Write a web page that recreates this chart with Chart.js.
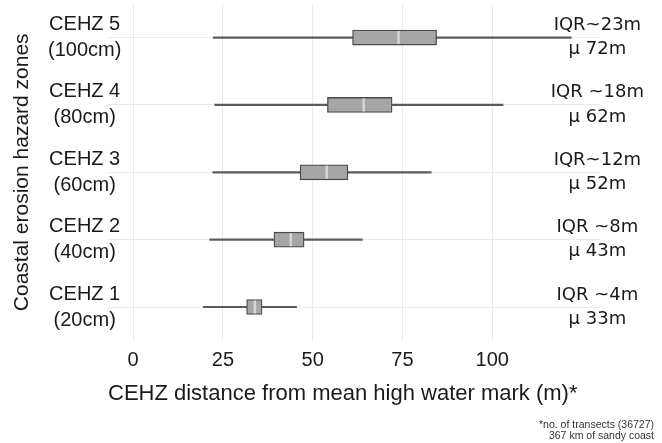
<!DOCTYPE html>
<html>
<head>
<meta charset="utf-8">
<script src="https://cdn.jsdelivr.net/npm/chart.js@4.4.1/dist/chart.umd.min.js"></script>
<style>
	html, body { margin: 0; padding: 0; background: #fff; }
	#wrap { width: 662px; height: 443px; }
</style>
</head>
<body>
<div id="wrap"><canvas id="cehzChart"></canvas></div>
<script>
// Zones, bottom to top
var zoneLabels = [["CEHZ 1", "(20cm)"], ["CEHZ 2", "(40cm)"], ["CEHZ 3", "(60cm)"], ["CEHZ 4", "(80cm)"], ["CEHZ 5", "(100cm)"]];
var whiskerLow = [19.5, 21.3, 22.2, 22.7, 22.3];
var whiskerHigh = [45.5, 63.8, 83, 103, 122];
var q1 = [31.6, 39.2, 46.5, 54.1, 61.1];
var q3 = [35.9, 47.6, 59.8, 72.1, 84.5];
var medians = [33.9, 43.9, 53.9, 64.2, 73.9];
var iqrLabels = ["IQR ~4m", "IQR ~8m", "IQR~12m", "IQR ~18m", "IQR~23m"];
var meanLabels = ["\u03bc 33m", "\u03bc 43m", "\u03bc 52m", "\u03bc 62m", "\u03bc 72m"];
var xTicks = [0, 25, 50, 75, 100];

var whiskers = whiskerLow.map(function(v, i) { return [v, whiskerHigh[i]]; });
var boxes = q1.map(function(v, i) { return [v, q3[i]]; });
var sideLabels = iqrLabels.map(function(t, i) { return [t, meanLabels[i]]; });

Chart.defaults.font.family = "'Liberation Sans', Arial, sans-serif";
Chart.defaults.color = '#1a1a1a';

var gridColor = '#ebebeb';

// fixed axis widths, no extra label padding above/below the plot
function fixWidth(w) {
	return function(scale) {
		scale.width = w;
		scale.paddingTop = 0;
		scale.paddingBottom = 0;
	};
}

var cehzChart = new Chart(document.getElementById('cehzChart'), {
	type: 'bar',
	data: {
		labels: zoneLabels,
		datasets: [{
			// Medians
			type: 'line',
			data: medians,
			showLine: false,
			pointStyle: 'line',
			pointRotation: 90,
			pointRadius: 6.5,
			pointBorderWidth: 2.5,
			pointBorderColor: '#d6d6d6',
			order: 0
		}, {
			// Boxes
			data: boxes,
			grouped: false,
			barThickness: 15,
			backgroundColor: '#a6a6a6',
			borderColor: '#4a4a4a',
			borderWidth: 1.3,
			borderSkipped: false,
			order: 1
		}, {
			// Whiskers
			data: whiskers,
			grouped: false,
			barThickness: 1.5,
			backgroundColor: '#5a5a5a',
			order: 2
		}]
	},
	options: {
		indexAxis: 'y',
		responsive: true,
		maintainAspectRatio: false,
		animation: false,
		events: [],
		layout: {
			autoPadding: false,
			padding: { left: 5, right: 8, top: 3.9, bottom: 0.8 }
		},
		plugins: {
			legend: { display: false },
			tooltip: { enabled: false },
			title: {
				display: true,
				position: 'bottom',
				align: 'end',
				text: ["*no. of transects (36727)", "367 km of sandy coast"],
				color: '#333',
				font: { size: 10.5, weight: 'normal', lineHeight: 1.1 },
				padding: { top: 12, bottom: 0 }
			}
		},
		scales: {
			x: {
				type: 'linear',
				min: -7,
				max: 130,
				afterBuildTicks: function(scale) {
					scale.ticks = xTicks.map(function(v) { return { value: v }; });
				},
				grid: { color: gridColor, drawTicks: false },
				border: { display: false },
				ticks: { font: { size: 20 }, padding: 8 },
				title: {
					display: true,
					align: 'start',
					text: 'CEHZ distance from mean high water mark (m)*',
					font: { size: 22 },
					padding: { top: 0, bottom: 0 }
				}
			},
			y: {
				type: 'category',
				reverse: true,
				offset: true,
				afterFit: fixWidth(103),
				grid: { color: gridColor, offset: false, drawTicks: false },
				border: { display: false },
				ticks: { autoSkip: false, mirror: true, crossAlign: 'center', padding: -60, font: { size: 20, lineHeight: 1.3 } },
				title: {
					display: true,
					text: 'Coastal erosion hazard zones',
					font: { size: 21 },
					padding: { top: 4.4, bottom: 0 }
				}
			},
			y2: {
				type: 'category',
				position: 'right',
				labels: sideLabels,
				reverse: true,
				offset: true,
				afterFit: fixWidth(54),
				grid: { display: false, drawTicks: false },
				border: { display: false },
				ticks: {
					autoSkip: false,
					mirror: true,
					crossAlign: 'center',
					padding: 44,
					font: { family: "'DejaVu Sans', Verdana, sans-serif", size: 18, lineHeight: 1.35 }
				}
			}
		}
	}
});
</script>
</body>
</html>
